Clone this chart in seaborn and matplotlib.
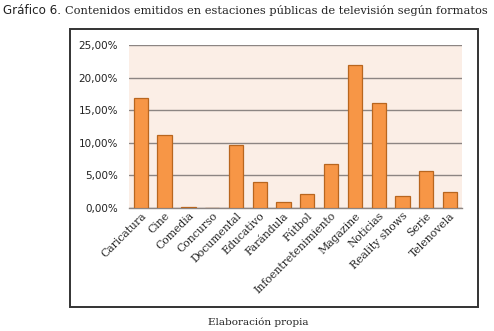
import matplotlib
matplotlib.use('Agg')
import matplotlib.pyplot as plt
from matplotlib.patches import Rectangle
from matplotlib.ticker import FuncFormatter
import seaborn as sns
import pandas as pd

formatos = ['Caricatura', 'Cine', 'Comedia', 'Concurso', 'Documental', 'Educativo',
            'Farándula', 'Fútbol', 'Infoentretenimiento', 'Magazine', 'Noticias',
            'Reality shows', 'Serie', 'Telenovela']
porcentajes = [16.8, 11.25, 0.2, 0.0, 9.7, 3.95, 0.9, 2.1, 6.7, 21.9, 16.15, 1.75, 5.6, 2.4]
yticks = [0, 5, 10, 15, 20, 25]

BAR = '#F79646'
EDGE = '#B8661F'
BG = '#FBEEE6'
GRID = '#8C8583'

sns.set_style('white')
plt.rcParams['font.family'] = ['DejaVu Serif']

fig = plt.figure(figsize=(4.94, 3.31), dpi=100)
ax = fig.add_axes([0.261, 0.372, 0.674, 0.492])

df = pd.DataFrame({'formato': formatos, 'pct': porcentajes})
sns.barplot(data=df, x='formato', y='pct', color=BAR, width=0.6,
            edgecolor=EDGE, linewidth=0.9, saturation=1, ax=ax, zorder=3)

ax.set_facecolor(BG)
ax.set_ylim(0, 25)
ax.set_yticks(yticks)
ax.yaxis.set_major_formatter(FuncFormatter(lambda v, p: f'{v:.2f}%'.replace('.', ',')))
ax.yaxis.grid(True, color=GRID, linewidth=1.0, zorder=0)
ax.set_axisbelow(True)
for s in ['left', 'right', 'top']:
    ax.spines[s].set_visible(False)
ax.spines['bottom'].set_color(GRID)
ax.spines['bottom'].set_linewidth(1.0)
ax.tick_params(axis='y', length=0, pad=8, labelsize=7.5)
ax.tick_params(axis='x', length=0, pad=2)
for lab in ax.get_yticklabels():
    lab.set_family('DejaVu Sans')
    lab.set_color('#222222')
ax.set_xticks(range(len(formatos)))
ax.set_xticklabels(formatos, rotation=45, ha='right', rotation_mode='anchor',
                   fontsize=7.8, family='DejaVu Serif')
ax.set_xlabel('')
ax.set_ylabel('')

# outer frame
fig.patches.append(Rectangle((70 / 494, 1 - 307 / 331), 408 / 494, 278 / 331,
                             transform=fig.transFigure, fill=False,
                             edgecolor='#333333', linewidth=1.4))

fig.text(3 / 494, 1 - 11 / 331, 'Gráfico 6.', family='DejaVu Sans', fontsize=8.6,
         va='center', ha='left', color='#222222')
fig.text(65 / 494, 1 - 11 / 331,
         'Contenidos emitidos en estaciones públicas de televisión según formatos',
         family='DejaVu Serif', fontsize=8.2, va='center', ha='left', color='#222222')
fig.text(258 / 494, 1 - 322 / 331, 'Elaboración propia', family='DejaVu Serif',
         fontsize=7.5, va='center', ha='center', color='#222222')

fig.savefig('out.png', dpi=100)
